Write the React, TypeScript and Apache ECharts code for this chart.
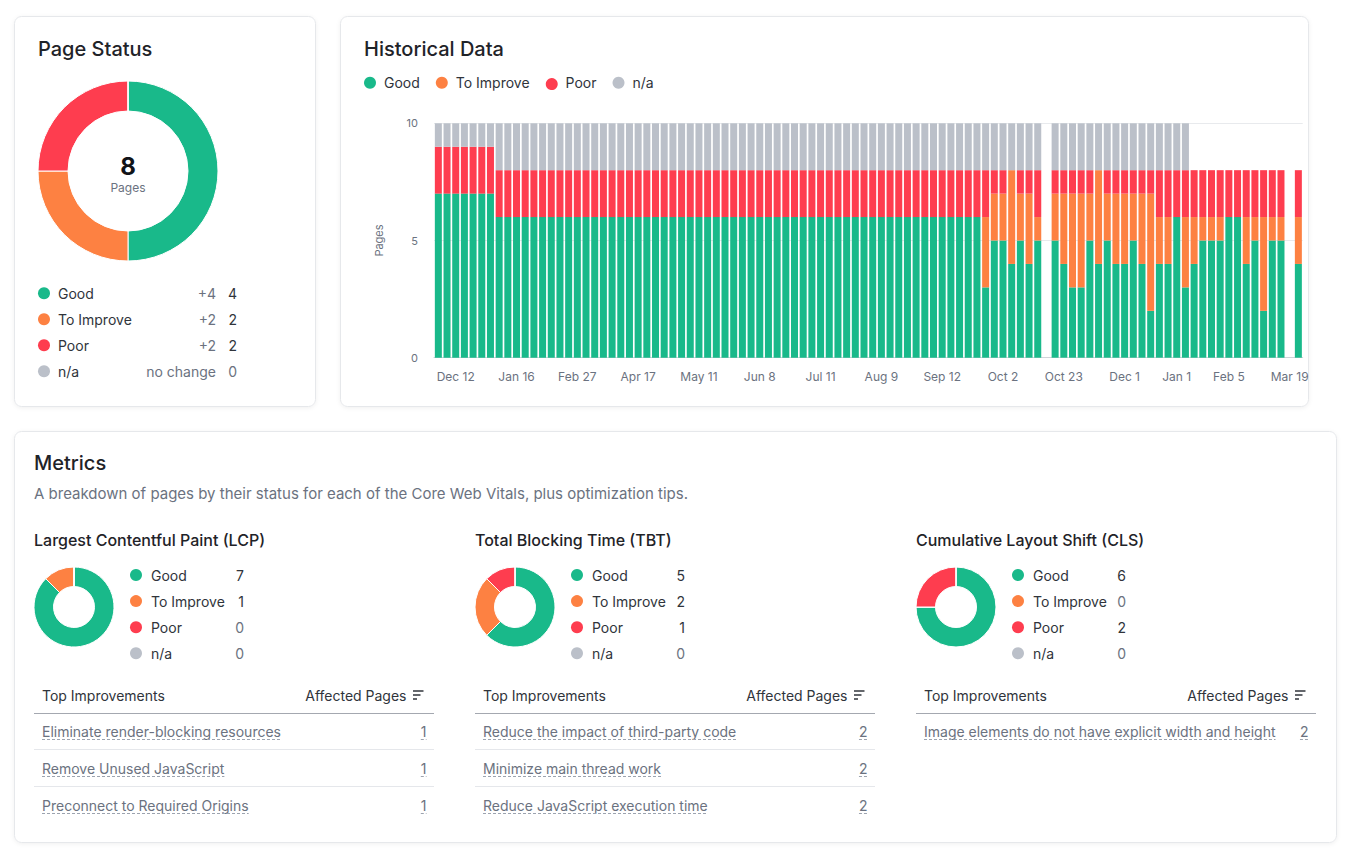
import React, { useEffect, useRef } from 'react';
import * as echarts from 'echarts';

const W = 1352;
const H = 860;

const statusNames = ['Good', 'To Improve', 'Poor', 'n/a'];
const statusColors = ['#19b98a', '#fd8142', '#fe3d4f', '#bbc0c9'];

// Page status
const pageStatusValues = [4, 2, 2, 0];
const pageStatusChanges = ['+4', '+2', '+2', 'no change'];
const pageTotal = 8;

// Historical data (100 snapshots)
const tickIndex = [2, 9, 16, 23, 30, 37, 44, 51, 58, 65, 72, 79, 85, 91, 98];
const tickLabels = ['Dec 12', 'Jan 16', 'Feb 27', 'Apr 17', 'May 11', 'Jun 8', 'Jul 11', 'Aug 9', 'Sep 12', 'Oct 2', 'Oct 23', 'Dec 1', 'Jan 1', 'Feb 5', 'Mar 19'];

const goodHistory = [
  7, 7, 7, 7, 7, 7, 7, 6, 6, 6,
  6, 6, 6, 6, 6, 6, 6, 6, 6, 6,
  6, 6, 6, 6, 6, 6, 6, 6, 6, 6,
  6, 6, 6, 6, 6, 6, 6, 6, 6, 6,
  6, 6, 6, 6, 6, 6, 6, 6, 6, 6,
  6, 6, 6, 6, 6, 6, 6, 6, 6, 6,
  6, 6, 6, 3, 5, 5, 4, 5, 4, 5,
  null, 5, 4, 3, 3, 5, 4, 5, 4, 4,
  5, 4, 2, 4, 4, 6, 3, 4, 5, 5,
  5, 6, 6, 4, 5, 2, 5, 5, null, 4,
];
const improveHistory = [
  0, 0, 0, 0, 0, 0, 0, 0, 0, 0,
  0, 0, 0, 0, 0, 0, 0, 0, 0, 0,
  0, 0, 0, 0, 0, 0, 0, 0, 0, 0,
  0, 0, 0, 0, 0, 0, 0, 0, 0, 0,
  0, 0, 0, 0, 0, 0, 0, 0, 0, 0,
  0, 0, 0, 0, 0, 0, 0, 0, 0, 0,
  0, 0, 0, 3, 2, 2, 4, 2, 3, 1,
  null, 2, 3, 4, 4, 2, 4, 2, 3, 3,
  2, 3, 5, 2, 2, 0, 3, 2, 1, 1,
  1, 0, 0, 2, 1, 4, 1, 1, null, 2,
];
const poorHistory = [
  2, 2, 2, 2, 2, 2, 2, 2, 2, 2,
  2, 2, 2, 2, 2, 2, 2, 2, 2, 2,
  2, 2, 2, 2, 2, 2, 2, 2, 2, 2,
  2, 2, 2, 2, 2, 2, 2, 2, 2, 2,
  2, 2, 2, 2, 2, 2, 2, 2, 2, 2,
  2, 2, 2, 2, 2, 2, 2, 2, 2, 2,
  2, 2, 2, 2, 1, 1, 0, 1, 1, 2,
  null, 1, 1, 1, 1, 1, 0, 1, 1, 1,
  1, 1, 1, 2, 2, 2, 2, 2, 2, 2,
  2, 2, 2, 2, 2, 2, 2, 2, null, 2,
];
const naHistory = [
  1, 1, 1, 1, 1, 1, 1, 2, 2, 2,
  2, 2, 2, 2, 2, 2, 2, 2, 2, 2,
  2, 2, 2, 2, 2, 2, 2, 2, 2, 2,
  2, 2, 2, 2, 2, 2, 2, 2, 2, 2,
  2, 2, 2, 2, 2, 2, 2, 2, 2, 2,
  2, 2, 2, 2, 2, 2, 2, 2, 2, 2,
  2, 2, 2, 2, 2, 2, 2, 2, 2, 2,
  null, 2, 2, 2, 2, 2, 2, 2, 2, 2,
  2, 2, 2, 2, 2, 2, 2, 0, 0, 0,
  0, 0, 0, 0, 0, 0, 0, 0, null, 0,
];

// Metrics
const metricTitles = ['Largest Contentful Paint (LCP)', 'Total Blocking Time (TBT)', 'Cumulative Layout Shift (CLS)'];
const lcpValues = [7, 1, 0, 0];
const tbtValues = [5, 2, 1, 0];
const clsValues = [6, 0, 2, 0];
const lcpTips = ['Eliminate render-blocking resources', 'Remove Unused JavaScript', 'Preconnect to Required Origins'];
const lcpTipPages = [1, 1, 1];
const tbtTips = ['Reduce the impact of third-party code', 'Minimize main thread work', 'Reduce JavaScript execution time'];
const tbtTipPages = [2, 2, 2];
const clsTips = ['Image elements do not have explicit width and height'];
const clsTipPages = [2];

const FONT = 'Inter, "Noto Sans", sans-serif';
const DARK = '#1f2328';
const TEXT = '#30343b';
const MUTED = '#6b7280';

export default function App() {
  const ref = useRef<HTMLDivElement>(null);

  useEffect(() => {
    const el = ref.current!;
    const chart = echarts.init(el, null, { renderer: 'svg', width: W, height: H });
    const ctx = document.createElement('canvas').getContext('2d')!;
    const F = (size: number, weight = 400) => `${weight} ${size}px ${FONT}`;
    const measure = (t: string, font: string) => {
      ctx.font = font;
      return ctx.measureText(t).width;
    };

    const g: any[] = [];
    const text = (x: number, y: number, t: string, size: number, color: string, opts: any = {}) =>
      g.push({
        type: 'text', x, y, z: 100, silent: true,
        style: {
          text: t, fill: color, font: F(size, opts.weight ?? 400),
          textAlign: opts.align ?? 'left', textVerticalAlign: 'middle',
        },
      });
    const dot = (cx: number, cy: number, color: string) =>
      g.push({ type: 'circle', z: 100, silent: true, shape: { cx, cy, r: 6 }, style: { fill: color } });
    const line = (x1: number, y1: number, x2: number, y2: number, color: string, width = 1, dash?: number[]) =>
      g.push({
        type: 'line', z: 100, silent: true, shape: { x1, y1, x2, y2 },
        style: { stroke: color, lineWidth: width, lineDash: dash },
      });
    const card = (x: number, y: number, w: number, h: number) =>
      g.push({
        type: 'rect', z: 0, silent: true, shape: { x, y, width: w, height: h, r: 7 },
        style: { fill: '#ffffff', stroke: '#e6e8eb', lineWidth: 1, shadowBlur: 4, shadowColor: 'rgba(0,0,0,0.06)', shadowOffsetY: 1 },
      });

    // Cards
    card(14.5, 16.5, 301, 390);
    card(340.5, 16.5, 968, 390);
    card(14.5, 431.5, 1322, 411);

    // Page status
    text(38, 48.5, 'Page Status', 20, DARK, { weight: 500 });
    text(128, 166, String(pageTotal), 24, '#111318', { weight: 700, align: 'center' });
    text(128, 187, 'Pages', 12, MUTED, { align: 'center' });
    statusNames.forEach((n, i) => {
      const y = 293.3 + 26 * i;
      dot(44, y, statusColors[i]);
      text(58, y, n, 14, TEXT);
      text(216, y, pageStatusChanges[i], 14, MUTED, { align: 'right' });
      text(237, y, String(pageStatusValues[i]), 14, pageStatusValues[i] ? TEXT : MUTED, { align: 'right' });
    });

    // Historical
    text(364, 48.5, 'Historical Data', 20, DARK, { weight: 500 });
    let lx = 364;
    statusNames.forEach((n, i) => {
      dot(lx + 6, 82.7, statusColors[i]);
      text(lx + 20, 82.7, n, 14, TEXT);
      lx = lx + 20 + measure(n, F(14)) + 16;
    });

    // Metrics
    text(34, 463, 'Metrics', 20, DARK, { weight: 500 });
    text(34, 493, 'A breakdown of pages by their status for each of the Core Web Vitals, plus optimization tips.', 15, MUTED);

    const sections = [
      { x0: 34, values: lcpValues, tips: lcpTips, pages: lcpTipPages },
      { x0: 475, values: tbtValues, tips: tbtTips, pages: tbtTipPages },
      { x0: 916, values: clsValues, tips: clsTips, pages: clsTipPages },
    ];
    sections.forEach((s, si) => {
      const x0 = s.x0;
      text(x0, 539.5, metricTitles[si], 16, DARK, { weight: 500 });
      statusNames.forEach((n, i) => {
        const y = 575 + 26.1 * i;
        dot(x0 + 102, y, statusColors[i]);
        text(x0 + 117, y, n, 14, TEXT);
        text(x0 + 210, y, String(s.values[i]), 14, s.values[i] ? TEXT : MUTED, { align: 'right' });
      });
      // table header
      text(x0 + 8, 695, 'Top Improvements', 14, TEXT);
      text(x0 + 372.5, 695, 'Affected Pages', 14, TEXT, { align: 'right' });
      line(x0 + 379, 691, x0 + 389.5, 691, TEXT, 1.5);
      line(x0 + 379, 695, x0 + 386.5, 695, TEXT, 1.5);
      line(x0 + 379, 699, x0 + 383, 699, TEXT, 1.5);
      line(x0, 713.5, x0 + 400, 713.5, '#a4a8b0', 1);
      s.tips.forEach((t, i) => {
        const y = 731.7 + 36.8 * i;
        const uy = Math.round(y + 7.5) + 0.5;
        text(x0 + 8, y, t, 14, MUTED);
        const tw = measure(t, F(14));
        line(x0 + 8, uy, x0 + 8 + tw, uy, '#9ca3af', 1, [3, 2]);
        const num = String(s.pages[i]);
        const nw = measure(num, F(14));
        text(x0 + 392.5, y, num, 14, MUTED, { align: 'right' });
        line(x0 + 392.5 - nw, uy, x0 + 392.5, uy, '#9ca3af', 1, [3, 2]);
        if (i < s.tips.length - 1) line(x0, Math.round(y + 18) - 0.5, x0 + 400, Math.round(y + 18) - 0.5, '#e5e7eb', 1);
      });
    });

    const categories = goodHistory.map((_, i) => {
      const k = tickIndex.indexOf(i);
      return k >= 0 ? tickLabels[k] : '';
    });

    const pie = (values: number[], center: number[], radius: number[]) => ({
      type: 'pie',
      center,
      radius,
      startAngle: 90,
      clockwise: true,
      silent: true,
      z: 3,
      label: { show: false },
      labelLine: { show: false },
      emphasis: { disabled: true },
      itemStyle: { borderColor: '#ffffff', borderWidth: 1 },
      data: statusNames.map((n, i) => ({ name: n, value: values[i], itemStyle: { color: statusColors[i] } })),
    });

    const bars = [goodHistory, improveHistory, poorHistory, naHistory].map((d, i) => ({
      type: 'bar',
      name: statusNames[i],
      stack: 'pages',
      data: d,
      barWidth: 7,
      silent: true,
      z: 3,
      emphasis: { disabled: true },
      itemStyle: { color: statusColors[i] },
    }));

    chart.setOption({
      animation: false,
      backgroundColor: '#ffffff',
      textStyle: { fontFamily: FONT },
      grid: { left: 434, top: 123.3, width: 868.7, height: 234.4, containLabel: false, outerBoundsMode: 'none' },
      xAxis: {
        type: 'category',
        data: categories,
        axisTick: { show: false },
        axisLine: { lineStyle: { color: '#cfd3d8', width: 1 } },
        axisLabel: {
          interval: (i: number) => tickIndex.includes(i),
          color: MUTED,
          fontSize: 12,
          fontFamily: FONT,
          margin: 13,
        },
        splitLine: { show: false },
      },
      yAxis: {
        type: 'value',
        min: 0,
        max: 10,
        interval: 5,
        name: 'Pages',
        nameLocation: 'middle',
        nameRotate: 90,
        nameGap: 50,
        nameTextStyle: { color: MUTED, fontSize: 11, fontFamily: FONT },
        axisLabel: { color: MUTED, fontSize: 11, margin: 16, fontFamily: FONT },
        axisLine: { show: false },
        axisTick: { show: false },
        splitLine: { lineStyle: { color: '#e8eaed' } },
      },
      series: [
        ...bars,
        pie(pageStatusValues, [128, 171], [60, 90]),
        pie(lcpValues, [74, 607], [20.5, 40]),
        pie(tbtValues, [515, 607], [20.5, 40]),
        pie(clsValues, [956, 607], [20.5, 40]),
      ],
      graphic: { elements: g },
    });

    return () => chart.dispose();
  }, []);

  return <div ref={ref} style={{ position: 'fixed', left: 0, top: 0, width: W, height: H, background: '#fff' }} />;
}
